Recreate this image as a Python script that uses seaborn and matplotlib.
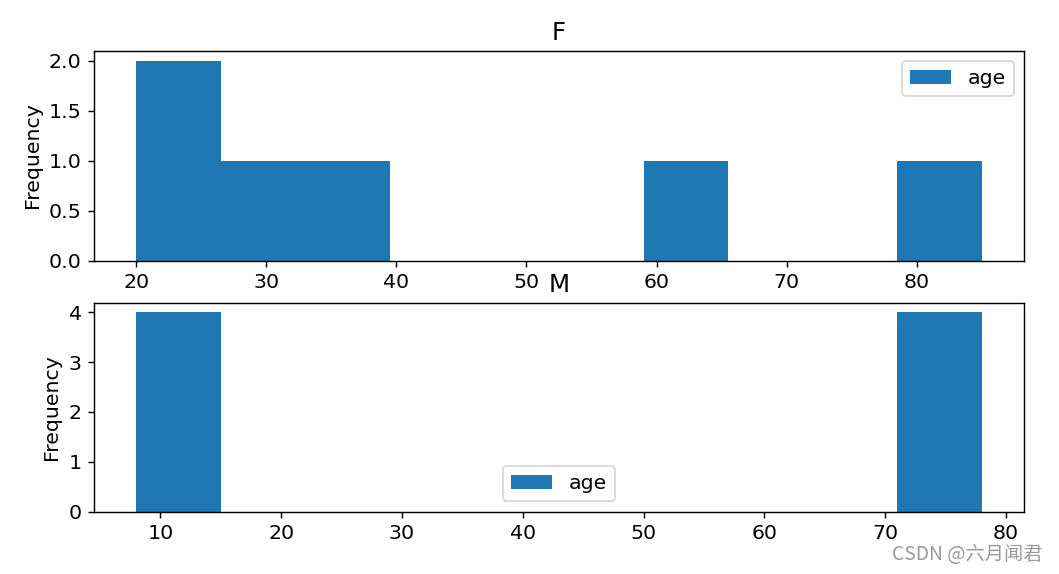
import matplotlib
matplotlib.use("Agg")
import matplotlib.pyplot as plt
import seaborn as sns
import pandas as pd

# data
f_ages = [20, 25, 30, 35, 60, 85]
m_ages = [8, 10, 12, 14, 72, 75, 76, 78]
groups = ["F", "M"]
legend_label = "age"
watermark = "CSDN @六月闻君"

df = pd.DataFrame({
    "sex": ["F"] * len(f_ages) + ["M"] * len(m_ages),
    "age": f_ages + m_ages,
})

plt.rcParams["font.size"] = 11.5

dpi = 128
fig = plt.figure(figsize=(1059 / dpi, 574 / dpi), dpi=dpi)
ax_top = fig.add_axes([94 / 1059, 1 - 260.5 / 574, 930 / 1059, 210 / 574])
ax_bot = fig.add_axes([94 / 1059, 1 - 511.5 / 574, 930 / 1059, 209 / 574])

for ax, g, loc in zip([ax_top, ax_bot], groups, ["upper right", "lower center"]):
    sub = df[df["sex"] == g]
    sns.histplot(data=sub, x="age", bins=10, ax=ax, color="#1f77b4", alpha=1,
                 edgecolor="none", linewidth=0, label=legend_label)
    ax.set_title(g)
    ax.set_ylabel("Frequency")
    ax.set_xlabel("")
    ax.legend(loc=loc)

fig.text(1043 / 1059, 1 - 554 / 574, watermark, ha="right", va="center",
         color="#9a9a9a", fontsize=10.8,
         family=["Noto Sans CJK SC", "DejaVu Sans"])

fig.savefig("out.png", dpi=dpi)
